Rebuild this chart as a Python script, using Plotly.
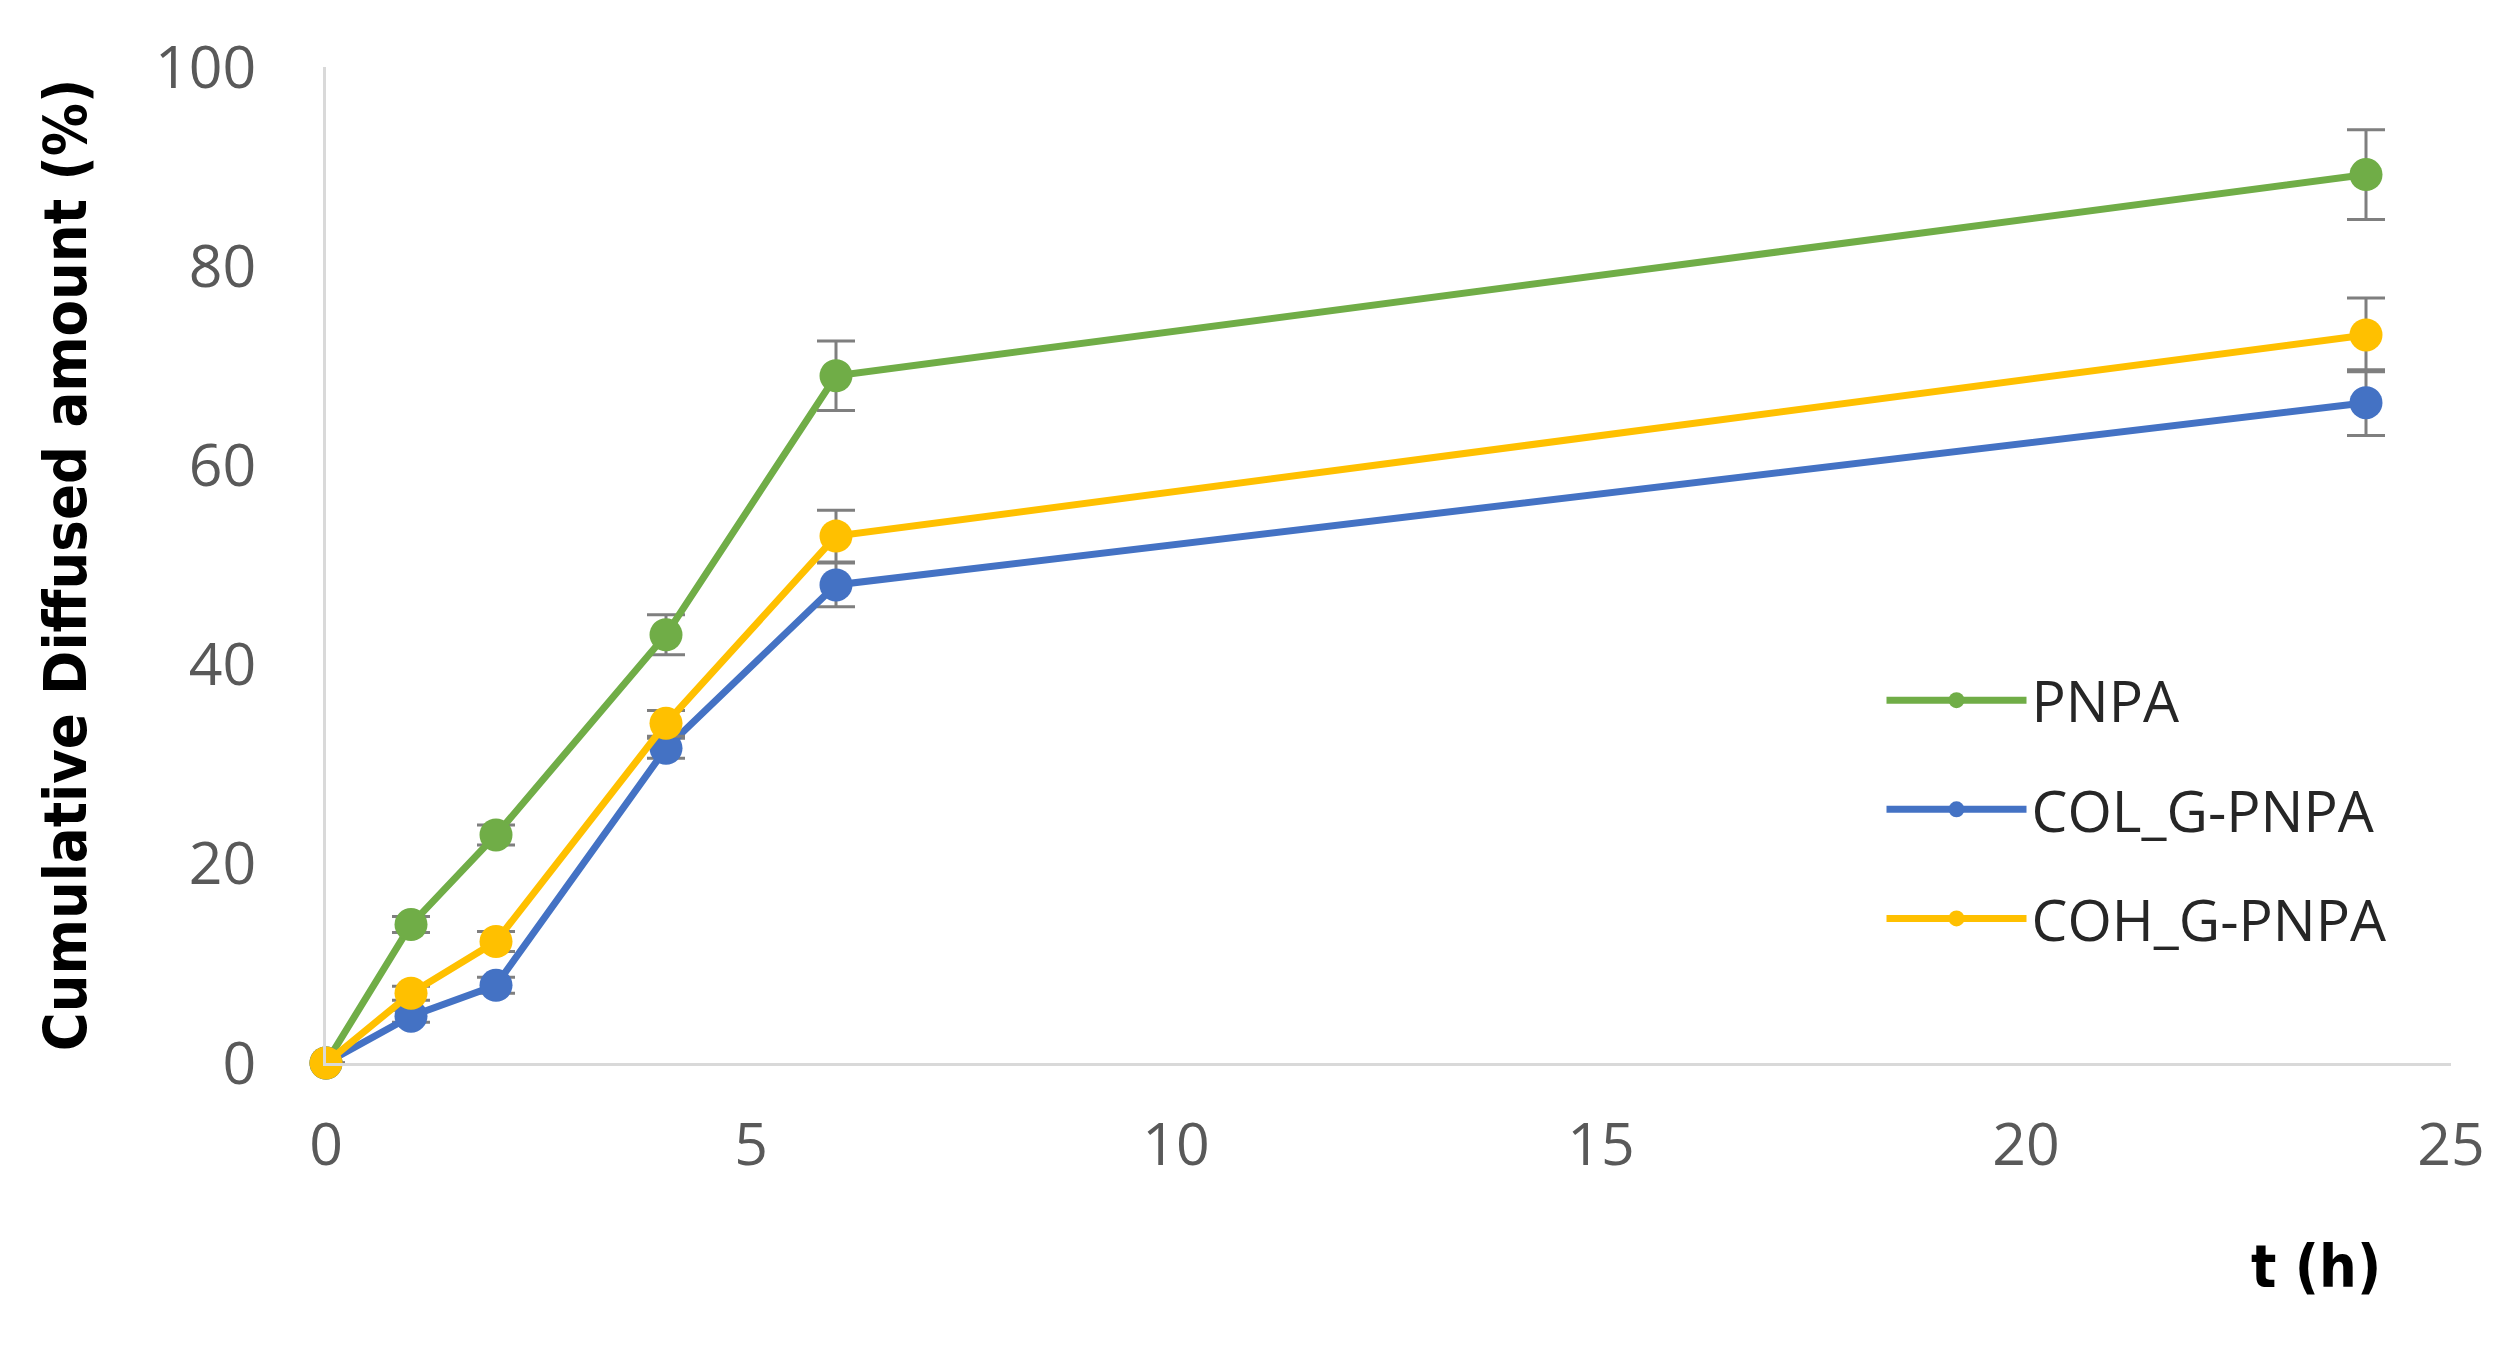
import plotly.graph_objects as go

# time points (h)
time_h = [0, 1, 2, 4, 6, 24]

# cumulative diffused amount (%)
pnpa = [0, 13.9, 22.9, 43.0, 69.0, 89.2]
col_g_pnpa = [0, 4.7, 7.8, 31.6, 48.0, 66.3]
coh_g_pnpa = [0, 7.0, 12.2, 34.1, 52.9, 73.1]

# error bars (+/-)
pnpa_err = [0, 0.8, 1.0, 2.0, 3.5, 4.5]
col_err = [0, 0.6, 0.8, 1.0, 2.2, 3.3]
coh_err = [0, 0.7, 1.0, 1.3, 2.6, 3.7]

series = [
    ("PNPA", pnpa, pnpa_err, "#70AD47"),
    ("COL_G-PNPA", col_g_pnpa, col_err, "#4472C4"),
    ("COH_G-PNPA", coh_g_pnpa, coh_err, "#FFC000"),
]

fig = go.Figure()
for name, vals, errs, color in series:
    fig.add_trace(go.Scatter(
        x=time_h, y=vals, name=name, mode="lines+markers",
        legendgroup=name,
        line=dict(color=color, width=7),
        marker=dict(color=color, size=33),
        error_y=dict(type="data", array=errs, visible=True,
                     color="#7F7F7F", thickness=3, width=19),
        cliponaxis=False,
    ))

tick_font = dict(family="Open Sans, sans-serif", size=59, color="#595959")
title_font = dict(family="Liberation Sans Narrow, DejaVu Sans Condensed, sans-serif",
                  size=59, color="black")

fig.update_layout(
    width=2517, height=1354,
    margin=dict(l=318, r=74, t=59, b=299),
    plot_bgcolor="white", paper_bgcolor="white",
    showlegend=True,
    legend=dict(
        x=0.732, y=0.408, xanchor="left", yanchor="top",
        font=dict(family="Open Sans, sans-serif", size=57, color="#262626"),
        itemwidth=140, tracegroupgap=32, bgcolor="rgba(0,0,0,0)",
    ),
    xaxis=dict(
        range=[0, 25], tickvals=[0, 5, 10, 15, 20, 25],
        showgrid=False, zeroline=False, showline=True,
        linecolor="#D9D9D9", linewidth=3, ticks="",
        tickfont=tick_font, ticklabelstandoff=28,
    ),
    yaxis=dict(
        range=[0, 100], tickvals=[0, 20, 40, 60, 80, 100],
        showgrid=False, zeroline=False, showline=True,
        linecolor="#D9D9D9", linewidth=3, ticks="",
        tickfont=tick_font, ticklabelstandoff=55,
        title=dict(text="<b>Cumulative Diffused amount (%)</b>",
                   font=title_font, standoff=50),
    ),
)

fig.add_annotation(
    text="<b>t (h)</b>", xref="paper", yref="paper",
    x=0.968, y=-0.241, showarrow=False, font=title_font,
)

fig.write_html("out.html")
